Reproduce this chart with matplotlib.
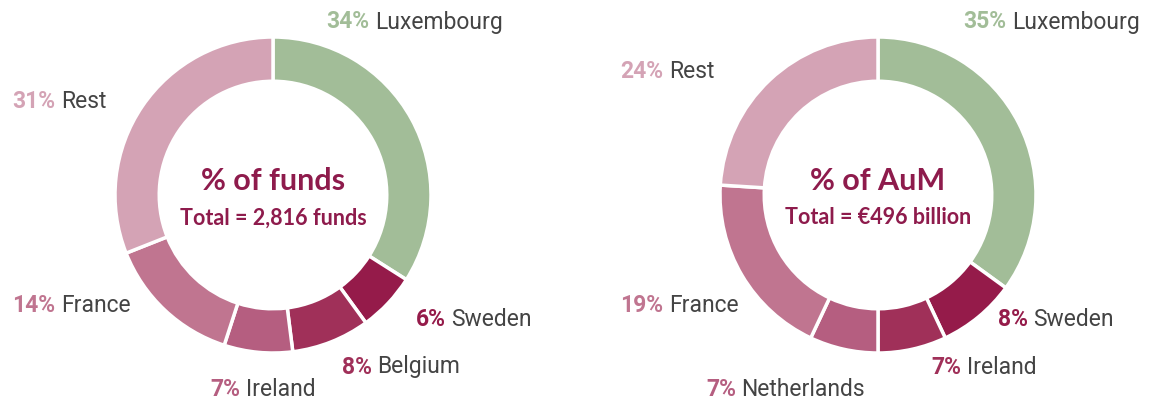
import matplotlib
matplotlib.use("Agg")
import matplotlib.pyplot as plt

W, H = 1153, 403
R_PX = 158.0

# left donut: % of funds
funds_names = ["Luxembourg", "Sweden", "Belgium", "Ireland", "France", "Rest"]
funds_pct = [34, 6, 8, 7, 14, 31]
funds_colors = ["#a2bd98", "#951b4a", "#a03059", "#b55e80", "#c07590", "#d4a3b5"]

# right donut: % of AuM
aum_names = ["Luxembourg", "Sweden", "Ireland", "Netherlands", "France", "Rest"]
aum_pct = [35, 8, 7, 7, 19, 24]
aum_colors = ["#a2bd98", "#951b4a", "#a03059", "#b55e80", "#c07590", "#d4a3b5"]

GREY = "#444444"
TITLE_C = "#8e1b4c"


def donut(cx, cy, values, colors, names, label_pos, title, subtitle):
    size = 420.0
    ax = fig.add_axes([(cx - size / 2) / W, (H - cy - size / 2) / H, size / W, size / H])
    half = size / 2 / R_PX
    ax.set_aspect("equal")
    ax.axis("off")
    ax.pie(values, colors=colors, startangle=90, counterclock=False, radius=1.0,
           wedgeprops=dict(width=0.28, edgecolor="white", linewidth=2.5))
    ax.set_xlim(-half, half)
    ax.set_ylim(-half, half)
    ax.text(0, (cy - 181) / R_PX, title, ha="center", va="center", fontsize=22,
            fontweight="bold", color=TITLE_C, family="Lato")
    ax.text(0, (cy - 218) / R_PX, subtitle, ha="center", va="center", fontsize=15.5,
            fontweight="bold", color=TITLE_C, family="Lato")
    for v, c, n, (px, py) in zip(values, colors, names, label_pos):
        t = ax.text((px - cx) / R_PX, (cy - py) / R_PX, f"{v}%", ha="left", va="center",
                    fontsize=16.5, fontweight="bold", color=c, family="Roboto", clip_on=False)
        ax.annotate(n, xy=(1, 0), xycoords=t, xytext=(4, 0), textcoords="offset points",
                    ha="left", va="bottom", fontsize=16.5, color=GREY, family="Roboto")


fig = plt.figure(figsize=(W / 100, H / 100), dpi=100)

donut(273, 195, funds_pct, funds_colors, funds_names,
      [(326, 22), (416, 320), (342, 367), (210, 390), (12, 305), (12, 101)],
      "% of funds", "Total = 2,816 funds")
donut(878, 195, aum_pct, aum_colors, aum_names,
      [(963, 22), (998, 320), (931, 367), (706, 390), (620, 305), (620, 72)],
      "% of AuM", "Total = \u20ac496 billion")

fig.savefig("out.png", dpi=100)
